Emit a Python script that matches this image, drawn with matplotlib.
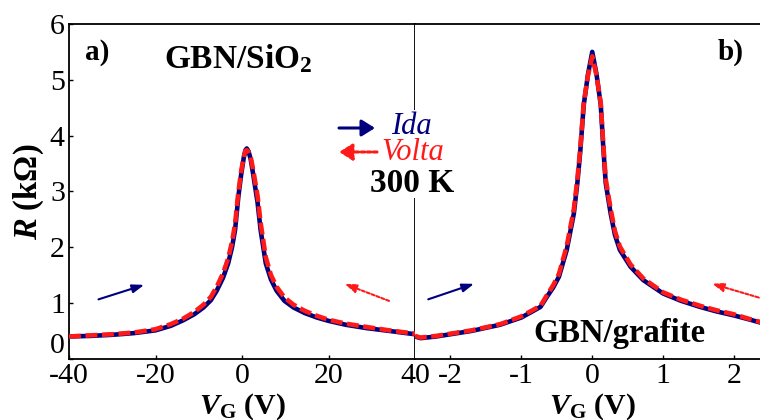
import matplotlib
matplotlib.use("Agg")
import matplotlib.pyplot as plt
from matplotlib.patches import FancyArrowPatch, Rectangle

plt.rcParams["font.family"] = ["Liberation Serif", "DejaVu Serif"]
plt.rcParams["mathtext.fontset"] = "custom"
plt.rcParams["mathtext.rm"] = "Liberation Serif"
plt.rcParams["mathtext.it"] = "Liberation Serif:italic"
plt.rcParams["mathtext.bf"] = "Liberation Serif:bold"
plt.rcParams["mathtext.bfit"] = "Liberation Serif:bold:italic"

# --- GBN on SiO2: gate sweep, forward (Ida) and backward (Volta) ---
vg_sio2 = [-40, -35, -30, -25, -20, -16.5, -13.6, -11, -8.9, -7.2, -5.85,
           -4.4, -3.2, -2.3, -1.6, -0.85, -0.2, 0.4, 0.8, 1.1, 1.5, 2.0, 2.6,
           3.1, 3.6, 4.3, 5.5, 6.7, 8.0, 9.8, 11.9, 14.5, 17.3, 20, 24, 28.8,
           34, 40]
r_sio2_ida = [0.40, 0.41, 0.43, 0.46, 0.51, 0.59, 0.69, 0.80, 0.92, 1.05,
              1.22, 1.45, 1.71, 2.00, 2.31, 2.90, 3.30, 3.60, 3.74, 3.77,
              3.72, 3.58, 3.30, 3.05, 2.80, 2.31, 1.71, 1.42, 1.22, 1.04,
              0.92, 0.82, 0.74, 0.68, 0.61, 0.55, 0.50, 0.44]
r_sio2_volta = [0.40, 0.42, 0.44, 0.47, 0.53, 0.62, 0.72, 0.84, 0.97, 1.11,
                1.29, 1.53, 1.80, 2.10, 2.42, 2.98, 3.36, 3.62, 3.73, 3.74,
                3.71, 3.62, 3.38, 3.15, 2.92, 2.44, 1.82, 1.50, 1.29, 1.10,
                0.97, 0.86, 0.77, 0.70, 0.63, 0.57, 0.51, 0.45]

# --- GBN on graphite ---
vg_graf = [-2.5, -2.42, -2.2, -2.0, -1.7, -1.3, -1.0, -0.73, -0.64, -0.55,
           -0.47, -0.36, -0.26, -0.21, -0.17, -0.12, -0.06, 0.0, 0.06, 0.12,
           0.155, 0.19, 0.26, 0.32, 0.39, 0.54, 0.72, 1.0, 1.25, 1.52, 1.75,
           1.99, 2.2, 2.37, 2.5]
r_graf_ida = [0.40, 0.37, 0.40, 0.44, 0.50, 0.61, 0.74, 0.93, 1.11, 1.28,
              1.47, 1.95, 2.60, 3.15, 3.70, 4.55, 5.10, 5.50, 5.10, 4.55,
              3.80, 3.15, 2.60, 2.22, 1.95, 1.65, 1.41, 1.17, 1.04, 0.93,
              0.85, 0.78, 0.71, 0.65, 0.61]
r_graf_volta = [0.41, 0.38, 0.41, 0.45, 0.51, 0.62, 0.76, 0.95, 1.14, 1.32,
                1.52, 2.02, 2.68, 3.22, 3.76, 4.58, 5.08, 5.42, 5.08, 4.58,
                3.86, 3.22, 2.68, 2.29, 2.01, 1.69, 1.44, 1.19, 1.06, 0.95,
                0.87, 0.80, 0.72, 0.66, 0.62]

xticks_sio2 = [-40, -20, 0, 20, 40]
xticks_graf = [-2, -1, 0, 1, 2]
yticks = [0, 1, 2, 3, 4, 5, 6]

W, H = 760, 420
fig = plt.figure(figsize=(W / 100, H / 100), dpi=100)


def fx(px):
    return px / W


def fy(py):
    return 1 - py / H


bottom = fy(358.8)
height = fy(24) - bottom
ax1 = fig.add_axes([fx(69), bottom, fx(415) - fx(69), height])
ax2 = fig.add_axes([fx(415), bottom, fx(769.5) - fx(415), height])

BLUE = "#00007f"
RED = "#ff1a1a"

for ax, x, ri, rv in ((ax1, vg_sio2, r_sio2_ida, r_sio2_volta),
                      (ax2, vg_graf, r_graf_ida, r_graf_volta)):
    ax.plot(x, ri, color=BLUE, lw=3.3, solid_capstyle="butt",
            solid_joinstyle="round", zorder=3)
    ax.plot(x, rv, color=RED, lw=3.3, ls=(0, (2.6, 1.0)), zorder=4)
    ax.set_ylim(0, 6)
    ax.set_yticks(yticks)
    for s in ax.spines.values():
        s.set_linewidth(1.3)
    ax.tick_params(direction="in", length=3, width=1, labelsize=21.5, pad=3)

ax1.set_xlim(-40, 40)
ax1.set_xticks(xticks_sio2)
ax1.set_xticklabels([str(t) for t in xticks_sio2])
ax2.set_xlim(-2.5, 2.5)
ax2.set_xticks(xticks_graf)
ax2.set_xticklabels([str(t) for t in xticks_graf])
ax2.spines["left"].set_visible(False)
ax2.tick_params(axis="y", left=False, labelleft=False)
ax2.spines["right"].set_visible(False)

# lift the "0" label clear of the x tick labels
ax1.get_yticklabels()[0].set_va("bottom")

ax1.set_ylabel(r"$\mathbfit{R}$ (kΩ)", fontsize=23.5, fontweight="bold",
               labelpad=3)
for ax in (ax1, ax2):
    ax.set_xlabel(r"$\mathbfit{V}_{\mathbf{G}}$ (V)", fontsize=21.5,
                  fontweight="bold", labelpad=2)

# sweep direction arrows inside the panels
ARW = "-|>,head_length=0.7,head_width=0.25"
ax1.annotate("", xy=(-22.0, 1.34), xytext=(-33.8, 1.05),
             arrowprops=dict(arrowstyle=ARW, color=BLUE, lw=1.5))
ax1.annotate("", xy=(23.1, 1.36), xytext=(34.6, 1.02),
             arrowprops=dict(arrowstyle=ARW, color=RED, lw=1.5,
                             ls=(0, (1.5, 1.0))))
ax2.annotate("", xy=(-1.63, 1.36), xytext=(-2.35, 1.05),
             arrowprops=dict(arrowstyle=ARW, color=BLUE, lw=1.5))
ax2.annotate("", xy=(1.65, 1.36), xytext=(2.45, 1.06),
             arrowprops=dict(arrowstyle=ARW, color=RED, lw=1.5,
                             ls=(0, (1.5, 1.0))))

# panel labels
ax1.text(0.045, 0.915, "a)", transform=ax1.transAxes, fontsize=21,
         fontweight="bold", ha="left", va="center")
ax1.text(0.49, 0.895, r"GBN/SiO$_{\mathbf{2}}$", transform=ax1.transAxes,
         fontsize=24, fontweight="bold", ha="center", va="center")
ax2.text(0.889, 0.915, "b)", transform=ax2.transAxes, fontsize=21,
         fontweight="bold", ha="center", va="center")
ax2.text(0.578, 0.075, "GBN/grafite", transform=ax2.transAxes, fontsize=23.5,
         fontweight="bold", ha="center", va="center")

# sweep legend and temperature, on a white patch over the divider
fig.add_artist(Rectangle((fx(333), fy(198)), fx(130), fy(110) - fy(198),
                         transform=fig.transFigure, facecolor="white",
                         edgecolor="none", zorder=5))
fig.add_artist(FancyArrowPatch((fx(339), fy(128)), (fx(375), fy(128)),
                               transform=fig.transFigure,
                               arrowstyle="-|>,head_length=8,head_width=5",
                               color=BLUE, lw=2.2, zorder=6,
                               shrinkA=0, shrinkB=0))
fig.add_artist(FancyArrowPatch((fx(377), fy(152)), (fx(339), fy(152)),
                               transform=fig.transFigure,
                               arrowstyle="-|>,head_length=8,head_width=5",
                               color=RED, lw=2.2, ls=(0, (1.2, 0.8)), zorder=6,
                               shrinkA=0, shrinkB=0))
fig.text(fx(411), fy(126), "Ida", color=BLUE, fontsize=22, style="italic",
         ha="center", va="center", zorder=6)
fig.text(fx(413), fy(153), "Volta", color=RED, fontsize=22, style="italic",
         ha="center", va="center", zorder=6)
fig.text(fx(412), fy(183), "300 K", color="black", fontsize=24,
         fontweight="bold", ha="center", va="center", zorder=6)

fig.savefig("out.png", dpi=100)
